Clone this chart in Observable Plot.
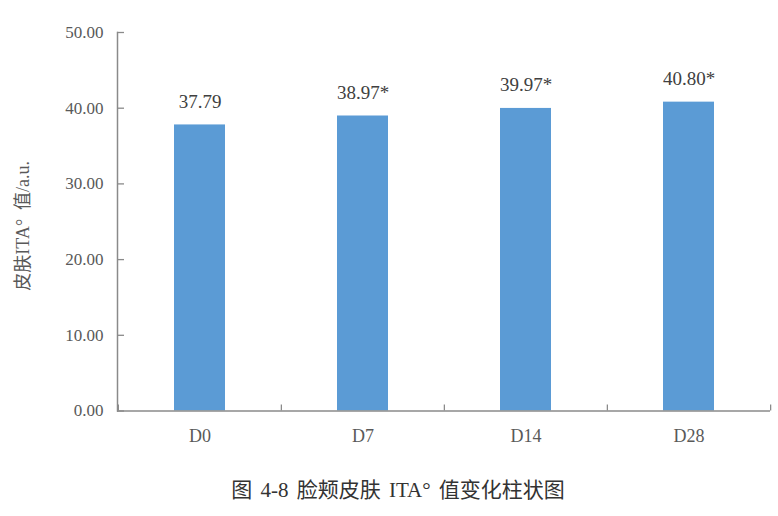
<!DOCTYPE html>
<html>
<head>
<meta charset="utf-8">
<script src="https://cdn.jsdelivr.net/npm/d3@7"></script>
<script src="https://cdn.jsdelivr.net/npm/@observablehq/plot@0.6"></script>
<style>
  body { margin: 0; background: #fff; }
  #cap { width: 778px; text-align: center; font-family: "Liberation Serif", "Times New Roman", "DejaVu Serif", "Noto Sans CJK SC"; font-size: 21px; color: #333; margin-top: 18px; line-height: 24px; padding-left: 18px; box-sizing: border-box; word-spacing: 3px; }
</style>
</head>
<body>
<div id="chart"></div>
<div id="cap">图 4-8 脸颊皮肤 ITA° 值变化柱状图</div>
<script>
const categories = ["D0", "D7", "D14", "D28"];
const values = [37.79, 38.97, 39.97, 40.80];
const valueLabels = ["37.79", "38.97*", "39.97*", "40.80*"];
const yTicks = [0, 10, 20, 30, 40, 50];
const yLabel = "皮肤ITA°  值/a.u.";

const data = categories.map((c, i) => ({cat: c, v: values[i], lab: valueLabels[i]}));

const W = 778, H = 460, mL = 117, mR = 8, mT = 32, mB = 49.5;
const step = (W - mL - mR) / categories.length;
const frameH = H - mT - mB;
const serif = "'Liberation Serif', 'Times New Roman', 'DejaVu Serif', 'Noto Sans CJK SC'";
const axisColor = "#8a8a8a";

const chart = Plot.plot({
  width: W, height: H,
  marginLeft: mL, marginRight: mR, marginTop: mT, marginBottom: mB,
  style: {fontFamily: serif, fontSize: "16px", color: "#595959", background: "#fff"},
  x: {domain: categories, paddingInner: 0.6875, paddingOuter: 0.34375, label: null},
  y: {domain: [0, 50], label: null},
  marks: [
    Plot.barY(data, {x: "cat", y: "v", fill: "#5B9BD5"}),
    Plot.frame({anchor: "left", stroke: axisColor, strokeWidth: 1.5}),
    Plot.ruleY([0], {stroke: axisColor, strokeWidth: 1.5}),
    Plot.ruleY(yTicks, {y: d => d, stroke: axisColor, strokeWidth: 1.3, insetRight: W - mL - mR - 7}),
    Plot.ruleX(categories, {x: d => d, dx: -step / 2, stroke: axisColor, strokeWidth: 1.3, insetTop: frameH - 6}),
    Plot.ruleX([categories[categories.length - 1]], {x: d => d, dx: step / 2, stroke: axisColor, strokeWidth: 1.3, insetTop: frameH - 6}),
    Plot.axisY(yTicks, {tickSize: 0, tickPadding: 14, tickFormat: d3.format(".2f"), fontSize: 17, fill: "#595959"}),
    Plot.axisX({tickSize: 0, tickPadding: 18, fontSize: 18, fill: "#595959"}),
    Plot.text(data, {x: "cat", y: "v", text: "lab", dy: -17, lineAnchor: "bottom", fontSize: 19, fill: "#404040"}),
    Plot.text([yLabel], {frameAnchor: "left", textAnchor: "middle", dx: -94, dy: 4, rotate: -90, fontSize: 18, fill: "#595959"})
  ]
});
document.getElementById("chart").appendChild(chart);
</script>
</body>
</html>
